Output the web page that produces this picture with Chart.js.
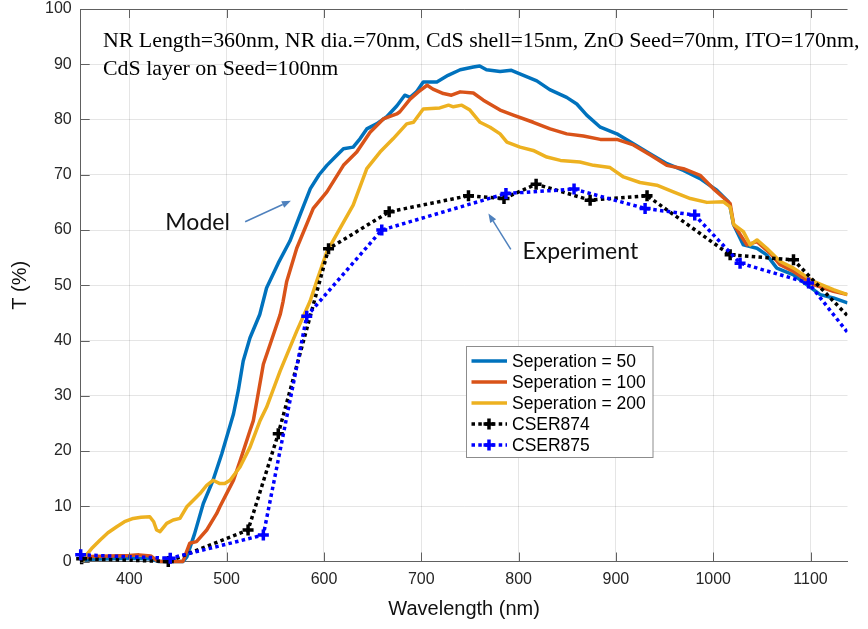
<!DOCTYPE html>
<html><head><meta charset="utf-8">
<script src="https://cdn.jsdelivr.net/npm/chart.js@4.4.1/dist/chart.umd.min.js"></script>
<style>html,body{margin:0;padding:0;background:#fff;}#c{display:block;}</style>
</head><body>
<canvas id="c" width="868" height="629"></canvas>
<script>
// ---------- DATA ----------
const xTicks = [400, 500, 600, 700, 800, 900, 1000, 1100];
const yTicks = [0, 10, 20, 30, 40, 50, 60, 70, 80, 90, 100];

const sep50WL = [350,360,380,400,420,426,430,455,459,467,476,486,495,507,512,517,524,534,541,553,565,576,586,595,603,612,620,630,637,644,654,664.5,675,683,688.5,695,702,716,727.5,740,753.5,760,767,781,792.6,805,818.7,832,849.4,859.8,870,884,901,918,935,952.5,969.4,986.5,1003.7,1015.6,1017,1020.8,1031,1045,1055,1065.4,1082.5,1096,1110,1123.5,1138];
const sep50T  = [0.2,0.4,0.5,0.6,0.5,0.2,0,0,0.8,5,10.5,14.7,19.5,26.7,31,36.3,40.5,44.7,49.5,54,58,63,67.5,70,71.7,73.3,74.7,75,76.5,78.3,79.2,80.5,82.5,84.4,84,85,86.8,86.8,88,89,89.5,89.7,89,88.7,88.9,88,87,85.4,84,82.8,80.8,78.6,77.4,75.6,73.8,72,70.8,69.3,67.2,65.1,64.5,61,57.3,56.7,55.5,53.1,51.9,50.1,48.3,47.7,46.8];

const sep100WL = [350,360,380,400,410,422,428,432,455,462,469,479.5,489.8,493,503.5,507,514,524,527.4,531,537.7,546,555,558,561.7,572,589,603,620,633.7,647.4,661,674.8,678,688.5,697,706,712,722.7,731,740,753.5,763.8,781,794.6,815,832.4,849.5,866.6,884,901,918,935,952.3,969.4,986.5,1000,1017.4,1021,1034.6,1045,1058.5,1068.8,1082.5,1103,1123.5,1138];
const sep100T  = [0.5,0.9,1.0,1.1,1.2,1.0,0.2,0,0,3.3,3.6,5.7,8.7,9.9,13.5,14.7,18.3,23.7,25.5,29,35.7,40,44.7,47.1,50.7,56.7,63.9,66.9,71.7,74.1,77.7,80.1,81,81.4,83.7,85,86.2,85.5,84.7,84.4,85,84.8,83.5,81.7,80.8,79.5,78.3,77.4,77,76.4,76.4,75.4,73.6,71.7,71.1,69.9,67.5,64.8,61,57.3,57.9,55.8,53.7,52.5,50.1,48.9,48.3];

const sep200WL = [352,354.5,362,370,378,387,395,404,412,421,425,428,431.5,438.4,445,452,459,465.7,472.6,479.5,486,493,498,503.5,513.7,524,534.3,541,555,572,585.7,592.5,603,616.5,630,644,657.6,671,685,692,702,719,728,733,741.6,750,760.4,770.7,781,788,801.5,815,829,843,863,877,894,907.8,924.8,942,959,976.5,993.5,1010.5,1017.4,1021,1031,1038,1045,1055,1068.8,1082.5,1103,1123.5,1138];
const sep200T  = [0,0.9,2.5,3.9,5.2,6.3,7.2,7.8,8.0,8.1,7.2,5.7,5.4,6.9,7.5,7.8,9.9,11.1,12.3,13.8,14.7,14.1,14.1,14.7,17.1,20.7,25.5,27.9,34.5,41.7,47.1,50.7,56.1,60.3,64.5,71.1,74.1,76.5,79.2,79.5,81.9,82.1,82.6,82.3,82.6,81.7,79.5,78.6,77.4,75.9,75,74.4,73.2,72.6,72.3,71.7,71.3,69.6,68.6,68.1,66.9,65.7,65,65.1,64.2,61,59.7,57.3,58.2,56.7,54.3,53.1,50.7,49.2,48.3];

const cser874WL = [351,440,522,553,604.7,667,748.5,785,818,873.5,932,1017.4,1082.5,1150];
const cser874T  = [0.5,0,5.7,23.1,56.6,63.3,66.2,65.7,68.3,65.4,66.2,55.5,54.6,42.3];

const cser875WL = [350,442,537.7,582.3,659.4,787,857,930,981,1027.6,1098,1150];
const cser875T  = [1.2,0.6,4.8,44.4,60,66.6,67.4,63.9,62.7,54,50.4,38.8];

const seriesLabels = ["Seperation = 50", "Seperation = 100", "Seperation = 200", "CSER874", "CSER875"];
const infoLines = ["NR Length=360nm, NR dia.=70nm, CdS shell=15nm, ZnO Seed=70nm, ITO=170nm,", "CdS layer on Seed=100nm"];
const modelLabel = "Model";
const experimentLabel = "Experiment";
const xTitle = "Wavelength (nm)";
const yTitle = "T (%)";

// ---------- helpers ----------
const pts = (xs, ys) => xs.map((x, i) => ({x: x, y: ys[i]}));
const AXIS_COLOR = '#606060';
const TICK_COLOR = '#262626';

// annotation anchors (in data units)
const annot = {
  modelText: {x: 437, y: 60.0},
  modelArrow: {from: {x: 519, y: 61.5}, to: {x: 566, y: 65.3}},
  expText: {x: 804, y: 54.8},
  expArrow: {from: {x: 792, y: 56.5}, to: {x: 769, y: 63.0}}
};

function arrow(ctx, x1, y1, x2, y2, color) {
  ctx.save();
  ctx.strokeStyle = color; ctx.fillStyle = color; ctx.lineWidth = 1.5;
  const a = Math.atan2(y2 - y1, x2 - x1), L = 9, W = 3.5;
  const bx = x2 - L * Math.cos(a), by = y2 - L * Math.sin(a);
  ctx.beginPath(); ctx.moveTo(x1, y1); ctx.lineTo(bx, by); ctx.stroke();
  ctx.beginPath();
  ctx.moveTo(x2, y2);
  ctx.lineTo(bx + W * Math.sin(a), by - W * Math.cos(a));
  ctx.lineTo(bx - W * Math.sin(a), by + W * Math.cos(a));
  ctx.closePath(); ctx.fill();
  ctx.restore();
}

function drawCross(ctx, x, y, r, color, lw) {
  ctx.save(); ctx.strokeStyle = color; ctx.lineWidth = lw; ctx.setLineDash([]);
  ctx.beginPath(); ctx.moveTo(x - r, y); ctx.lineTo(x + r, y);
  ctx.moveTo(x, y - r); ctx.lineTo(x, y + r); ctx.stroke(); ctx.restore();
}

const decorPlugin = {
  id: 'decor',
  afterDatasetsDraw(chart) {
    const ctx = chart.ctx, xs = chart.scales.x, ys = chart.scales.y, ca = chart.chartArea;
    // top border
    ctx.save();
    ctx.strokeStyle = AXIS_COLOR; ctx.lineWidth = 1;
    ctx.beginPath(); ctx.moveTo(ca.left, ca.top + 0.5); ctx.lineTo(ca.right, ca.top + 0.5); ctx.stroke();
    // inner ticks
    const tl = 9;
    ctx.beginPath();
    xTicks.forEach(v => {
      const px = Math.round(xs.getPixelForValue(v)) + 0.5;
      ctx.moveTo(px, ca.bottom); ctx.lineTo(px, ca.bottom - tl);
      ctx.moveTo(px, ca.top); ctx.lineTo(px, ca.top + tl);
    });
    yTicks.forEach(v => {
      const py = Math.round(ys.getPixelForValue(v)) + 0.5;
      ctx.moveTo(ca.left, py); ctx.lineTo(ca.left + tl, py);
    });
    ctx.stroke();
    ctx.restore();

    // info text (serif)
    ctx.save();
    ctx.fillStyle = '#000';
    ctx.textBaseline = 'alphabetic';
    let fs = 22;
    ctx.font = fs + 'px "Liberation Serif"';
    const w = ctx.measureText(infoLines[0]).width;
    fs = fs * 757 / w;
    ctx.font = fs.toFixed(2) + 'px "Liberation Serif"';
    ctx.fillText(infoLines[0], 103, 47);
    ctx.fillText(infoLines[1], 103, 75);

    // Model / Experiment annotations
    ctx.font = '23px Lato';
    ctx.fillStyle = '#111';
    ctx.fillText(modelLabel, xs.getPixelForValue(annot.modelText.x), ys.getPixelForValue(annot.modelText.y));
    ctx.fillText(experimentLabel, xs.getPixelForValue(annot.expText.x), ys.getPixelForValue(annot.expText.y));
    ctx.restore();
    const ac = '#4f81bd';
    arrow(ctx, xs.getPixelForValue(annot.modelArrow.from.x), ys.getPixelForValue(annot.modelArrow.from.y),
               xs.getPixelForValue(annot.modelArrow.to.x), ys.getPixelForValue(annot.modelArrow.to.y), ac);
    arrow(ctx, xs.getPixelForValue(annot.expArrow.from.x), ys.getPixelForValue(annot.expArrow.from.y),
               xs.getPixelForValue(annot.expArrow.to.x), ys.getPixelForValue(annot.expArrow.to.y), ac);
  },
  afterDraw(chart) {
    // legend box inside the axes
    const ctx = chart.ctx;
    const bx = 466.5, by = 346.5, bw = 186.5, bh = 111;
    ctx.save();
    ctx.fillStyle = '#fff'; ctx.fillRect(bx, by, bw, bh);
    ctx.strokeStyle = '#8c8c8c'; ctx.lineWidth = 1; ctx.strokeRect(bx, by, bw, bh);
    ctx.font = '17.5px "Liberation Sans"'; ctx.textBaseline = 'middle'; ctx.fillStyle = '#000';
    chart.data.datasets.forEach((ds, i) => {
      const y = 361 + i * 21;
      ctx.save();
      ctx.strokeStyle = ds.borderColor; ctx.lineWidth = ds.borderWidth;
      ctx.setLineDash(ds.borderDash || []); ctx.lineCap = 'butt';
      ctx.beginPath(); ctx.moveTo(471.5, y); ctx.lineTo(507, y); ctx.stroke();
      ctx.restore();
      if (ds.pointRadius > 0) drawCross(ctx, 489, y, ds.pointRadius, ds.borderColor, ds.pointBorderWidth);
      ctx.fillText(ds.label, 512, y + 1);
    });
    ctx.restore();
  }
};

const expDash = [3.5, 3.3];
const clipBox = {left: 8, top: 0, right: 0, bottom: 8};

new Chart(document.getElementById('c'), {
  type: 'line',
  data: {
    datasets: [
      {label: seriesLabels[0], data: pts(sep50WL, sep50T), borderColor: '#0072BD', borderWidth: 3.5, pointRadius: 0, order: 5, clip: clipBox},
      {label: seriesLabels[1], data: pts(sep100WL, sep100T), borderColor: '#D95319', borderWidth: 3.5, pointRadius: 0, order: 4, clip: clipBox},
      {label: seriesLabels[2], data: pts(sep200WL, sep200T), borderColor: '#EDB120', borderWidth: 3.5, pointRadius: 0, order: 3, clip: clipBox},
      {label: seriesLabels[3], data: pts(cser874WL, cser874T), borderColor: '#000000', backgroundColor: '#000000', borderWidth: 3.5, borderDash: expDash,
       pointStyle: 'cross', pointRadius: 5.5, pointBorderWidth: 3.5, pointBorderColor: '#000000', order: 2, clip: clipBox},
      {label: seriesLabels[4], data: pts(cser875WL, cser875T), borderColor: '#0000FF', backgroundColor: '#0000FF', borderWidth: 3.5, borderDash: expDash,
       pointStyle: 'cross', pointRadius: 5.5, pointBorderWidth: 3.5, pointBorderColor: '#0000FF', order: 1, clip: clipBox}
    ]
  },
  options: {
    responsive: false, animation: false, devicePixelRatio: 1,
    parsing: false,
    layout: {padding: {top: 6.5, right: 20.5, left: 0, bottom: 0}},
    elements: {line: {tension: 0, borderCapStyle: 'butt', borderJoinStyle: 'round'}},
    plugins: {legend: {display: false}, tooltip: {enabled: false}},
    scales: {
      x: {
        type: 'linear', min: 350, max: 1138,
        afterBuildTicks: s => { s.ticks = xTicks.map(v => ({value: v})); },
        afterFit: s => { s.height = 67.5; s.paddingLeft = 0; s.paddingRight = 0; },
        grid: {color: 'rgba(0,0,0,0.1)', drawTicks: false},
        border: {display: true, color: AXIS_COLOR, width: 1},
        ticks: {font: {family: 'Liberation Sans', size: 16}, color: TICK_COLOR, padding: 8, maxRotation: 0, autoSkip: false,
                callback: v => String(v)},
        title: {display: true, text: xTitle, font: {family: 'Liberation Sans', size: 20}, color: '#111', padding: {top: 4, bottom: 8}}
      },
      y: {
        type: 'linear', min: 0, max: 100,
        afterBuildTicks: s => { s.ticks = yTicks.map(v => ({value: v})); },
        afterFit: s => { s.width = 80.7; s.paddingTop = 0; s.paddingBottom = 0; },
        grid: {color: 'rgba(0,0,0,0.1)', drawTicks: false},
        border: {display: true, color: AXIS_COLOR, width: 1},
        ticks: {font: {family: 'Liberation Sans', size: 16}, color: TICK_COLOR, padding: 9, autoSkip: false,
                callback: v => String(v)},
        title: {display: true, text: yTitle, font: {family: 'Liberation Sans', size: 20}, color: '#111', padding: {top: 8, bottom: 4}}
      }
    }
  },
  plugins: [decorPlugin]
});
</script>
</body></html>
